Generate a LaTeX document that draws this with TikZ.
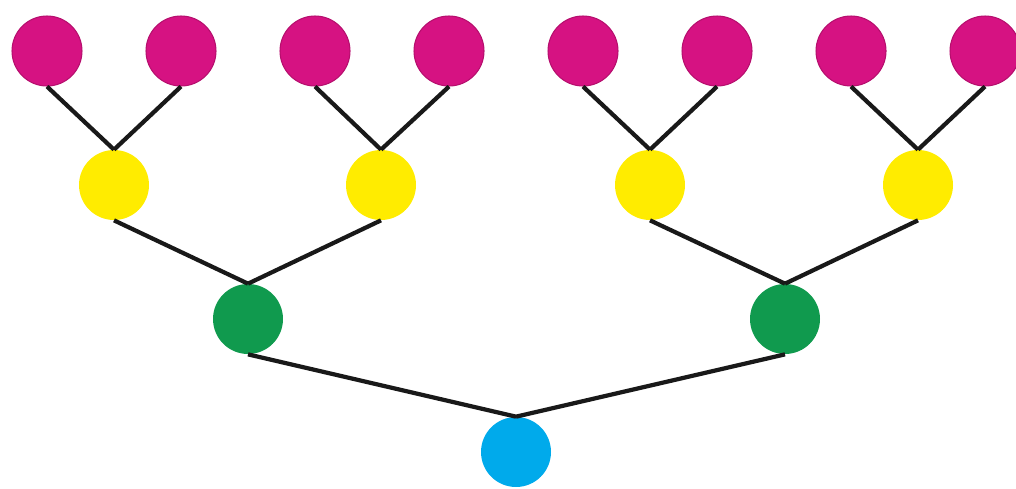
\documentclass[tikz,border=0pt]{standalone}
\usepackage{tikz}

\definecolor{leafpink}{RGB}{214,18,130}
\definecolor{midyellow}{RGB}{255,236,0}
\definecolor{twiggreen}{RGB}{16,154,78}
\definecolor{rootblue}{RGB}{0,170,235}

\tikzset{
  dot/.style={circle, inner sep=0pt, minimum size=1.4cm},
  leaf/.style={dot, fill=leafpink, draw=leafpink!85!black, line width=0.6pt},
  link/.style={line width=2.4pt, black!90}
}

\begin{document}
\begin{tikzpicture}[x=0.02cm,y=-0.02cm]
\useasboundingbox (0,0) rectangle (1016,488);

\node[leaf] (p1) at (47,51) {};
\node[leaf] (p2) at (181,51) {};
\node[leaf] (p3) at (315,51) {};
\node[leaf] (p4) at (449,51) {};
\node[leaf] (p5) at (583,51) {};
\node[leaf] (p6) at (717,51) {};
\node[leaf] (p7) at (851,51) {};
\node[leaf] (p8) at (985,51) {};

\node[dot, fill=midyellow] (y1) at (114,185) {};
\node[dot, fill=midyellow] (y2) at (381,185) {};
\node[dot, fill=midyellow] (y3) at (650,185) {};
\node[dot, fill=midyellow] (y4) at (918,185) {};

\node[dot, fill=twiggreen] (g1) at (248,319) {};
\node[dot, fill=twiggreen] (g2) at (785,319) {};

\node[dot, fill=rootblue] (r) at (516,452) {};

\draw[link] (p1.south) -- (y1.north);
\draw[link] (p2.south) -- (y1.north);
\draw[link] (p3.south) -- (y2.north);
\draw[link] (p4.south) -- (y2.north);
\draw[link] (p5.south) -- (y3.north);
\draw[link] (p6.south) -- (y3.north);
\draw[link] (p7.south) -- (y4.north);
\draw[link] (p8.south) -- (y4.north);

\draw[link] (y1.south) -- (g1.north);
\draw[link] (y2.south) -- (g1.north);
\draw[link] (y3.south) -- (g2.north);
\draw[link] (y4.south) -- (g2.north);

\draw[link] (g1.south) -- (r.north);
\draw[link] (g2.south) -- (r.north);
\end{tikzpicture}
\end{document}
